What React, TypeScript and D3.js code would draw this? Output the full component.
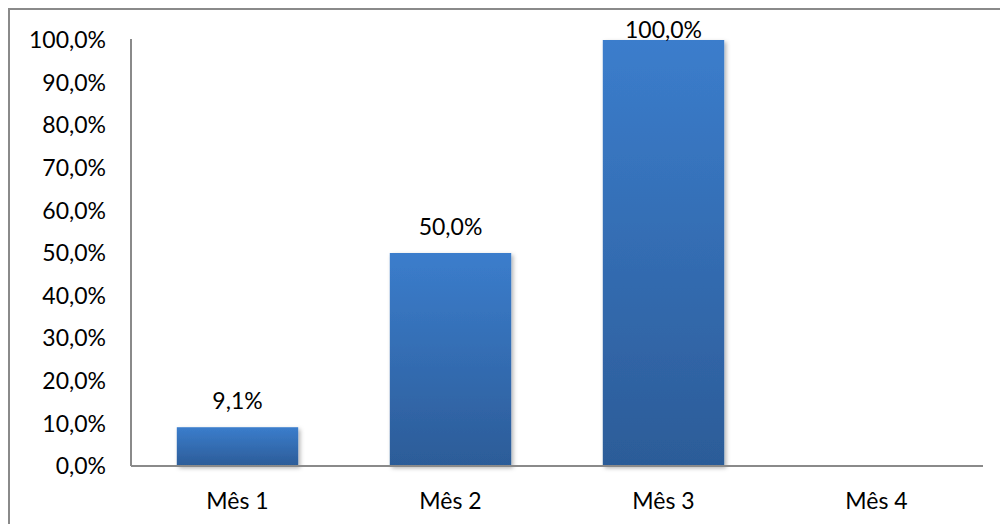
import React from "react";
import * as d3 from "d3";

const categories = ["Mês 1", "Mês 2", "Mês 3", "Mês 4"];
const values: (number | null)[] = [0.091, 0.5, 1.0, null];
const yTicks = [0, 0.1, 0.2, 0.3, 0.4, 0.5, 0.6, 0.7, 0.8, 0.9, 1.0];

const W = 1000;
const H = 524;
const plot = { left: 131, right: 983, top: 40, bottom: 466 };
const FONT = "Lato, 'Open Sans', sans-serif";
const FS = 23;

const fmt = (v: number) => (v * 100).toFixed(1).replace(".", ",") + "%";

export default function App() {
  const x = d3
    .scaleBand<string>()
    .domain(categories)
    .range([plot.left, plot.right])
    .paddingInner(0.43)
    .paddingOuter(0.215);
  const y = d3.scaleLinear().domain([0, 1]).range([plot.bottom, plot.top]);

  return (
    <div style={{ position: "fixed", left: 0, top: 0, width: W, height: H, background: "#fff" }}>
      <svg width={W} height={H} style={{ display: "block" }}>
        <defs>
          <linearGradient id="barFill" x1="0" y1="0" x2="0" y2="1">
            <stop offset="0%" stopColor="#3b7dcc" />
            <stop offset="100%" stopColor="#2c5c98" />
          </linearGradient>
          <filter id="barShadow" x="-10%" y="-10%" width="130%" height="130%">
            <feDropShadow dx="2" dy="2" stdDeviation="2" floodColor="#000" floodOpacity="0.3" />
          </filter>
        </defs>

        {/* chart area frame */}
        <rect x={9} y={9} width={W + 20} height={H + 20} fill="none" stroke="#8a8a8a" strokeWidth={2} />

        {/* bars */}
        {categories.map((c, i) => {
          const v = values[i];
          if (v == null) return null;
          return (
            <rect
              key={c}
              x={x(c)}
              y={y(v)}
              width={x.bandwidth()}
              height={y(0) - y(v)}
              fill="url(#barFill)"
              filter="url(#barShadow)"
            />
          );
        })}

        {/* axes */}
        <line x1={plot.left} x2={plot.left} y1={plot.top - 1} y2={plot.bottom} stroke="#8a8a8a" strokeWidth={2} />
        <line x1={plot.left} x2={plot.right} y1={plot.bottom} y2={plot.bottom} stroke="#8a8a8a" strokeWidth={2} />

        {/* y tick labels */}
        {yTicks.map((t) => (
          <text
            key={t}
            x={106}
            y={y(t)}
            dy="0.36em"
            textAnchor="end"
            fontFamily={FONT}
            fontSize={FS}
            fill="#000"
          >
            {fmt(t)}
          </text>
        ))}

        {/* category labels */}
        {categories.map((c) => (
          <text
            key={c}
            x={(x(c) ?? 0) + x.bandwidth() / 2}
            y={509}
            textAnchor="middle"
            fontFamily={FONT}
            fontSize={FS}
            fill="#000"
          >
            {c}
          </text>
        ))}

        {/* value labels, kept inside the chart area */}
        {categories.map((c, i) => {
          const v = values[i];
          if (v == null) return null;
          return (
            <text
              key={c}
              x={(x(c) ?? 0) + x.bandwidth() / 2}
              y={Math.max(y(v) - 18, 38)}
              textAnchor="middle"
              fontFamily={FONT}
              fontSize={FS}
              fill="#000"
            >
              {fmt(v)}
            </text>
          );
        })}
      </svg>
    </div>
  );
}
